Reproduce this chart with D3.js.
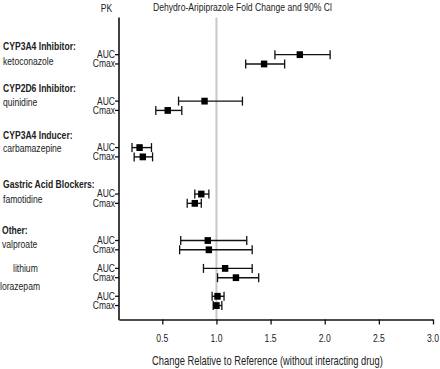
<!DOCTYPE html>
<html>
<head>
<meta charset="utf-8">
<script src="https://cdn.jsdelivr.net/npm/d3@7/dist/d3.min.js"></script>
<style>
  html, body { margin: 0; padding: 0; background: #fff; }
  svg { display: block; }
  text { font-family: "Liberation Sans", Arial, sans-serif; fill: #222; }
</style>
</head>
<body>
<svg id="chart" width="440" height="369"></svg>
<script>
// ---- data ----
const groupHeaders = ["CYP3A4 Inhibitor:", "CYP2D6 Inhibitor:", "CYP3A4 Inducer:", "Gastric Acid Blockers:", "Other:", "", ""];
const drugs        = ["ketoconazole", "quinidine", "carbamazepine", "famotidine", "valproate", "lithium", "lorazepam"];
const pkParams     = ["AUC", "Cmax"];
const aucPoint = [1.77, 0.89, 0.29, 0.86, 0.92, 1.08, 1.01];
const aucLow   = [1.54, 0.65, 0.22, 0.80, 0.67, 0.88, 0.96];
const aucHigh  = [2.05, 1.24, 0.40, 0.93, 1.28, 1.33, 1.07];
const cmaxPoint = [1.44, 0.55, 0.32, 0.80, 0.93, 1.18, 1.00];
const cmaxLow   = [1.27, 0.44, 0.24, 0.73, 0.66, 1.01, 0.97];
const cmaxHigh  = [1.63, 0.68, 0.41, 0.86, 1.33, 1.39, 1.05];
const xTicks = [0.5, 1.0, 1.5, 2.0, 2.5, 3.0];
const referenceValue = 1.0;
const titleText = "Dehydro-Aripiprazole Fold Change and 90% CI";
const xAxisTitle = "Change Relative to Reference (without interacting drug)";
const yAxisTitle = "PK";

// ---- layout (not data) ----
const labelDy = [[-5, 10], [-9, 5], [-9, 4.5], [-6, 8.5], [-7, 7], [null, 3.5], [null, -6]];
const labelX  = [3, 3, 3, 3, 2, 13, 0];
const SQX = 0.78; // horizontal compression (condensed look)

// build rows: slot indices with gaps
const rows = [];
let slot = 0;
drugs.forEach((d, i) => {
  if (i > 0) slot += groupHeaders[i] ? 3 : 1;
  rows.push({g: i, pk: pkParams[0], slot: slot, v: aucPoint[i], lo: aucLow[i], hi: aucHigh[i]});
  slot += 1;
  rows.push({g: i, pk: pkParams[1], slot: slot, v: cmaxPoint[i], lo: cmaxLow[i], hi: cmaxHigh[i]});
  slot += 1;
});
const lastSlot = slot - 1;

const svg = d3.select("#chart");
const x = d3.scaleLinear().domain([0.1, 3.0]).range([119, 433]);
const y = d3.scaleLinear().domain([-4, lastSlot + 1.5]).range([17.5, 319.5]);

function addText(px, py, str, size, opts = {}) {
  const t = svg.append("text")
    .attr("transform", `translate(${px},${py}) scale(${opts.sx || SQX},1)`)
    .attr("text-anchor", opts.anchor || "start")
    .style("font-size", size + "px")
    .attr("fill", opts.fill || "#222")
    .text(str);
  if (opts.bold) t.style("font-weight", "bold");
  return t;
}

// reference line
svg.append("line")
  .attr("x1", x(referenceValue)).attr("x2", x(referenceValue))
  .attr("y1", y(-4)).attr("y2", y(lastSlot + 1.5))
  .attr("stroke", "#c8c8c8").attr("stroke-width", 2);

// x axis
const xAxis = d3.axisBottom(x).tickValues(xTicks).tickFormat(d3.format(".1f")).tickSize(5).tickSizeOuter(0);
const gx = svg.append("g").attr("transform", `translate(0,${y(lastSlot + 1.5)})`).call(xAxis);
gx.select(".domain").attr("stroke", "#111").attr("stroke-width", 1.6);
gx.selectAll(".tick line").attr("stroke", "#111").attr("stroke-width", 1.3);
gx.selectAll(".tick text").remove();
xTicks.forEach(t => addText(x(t), y(lastSlot + 1.5) + 22, d3.format(".1f")(t), 11, {anchor: "middle", fill: "#333"}));

// y axis
svg.append("line")
  .attr("x1", x(0.1)).attr("x2", x(0.1))
  .attr("y1", y(-4)).attr("y2", y(lastSlot + 1.5) + 0.8)
  .attr("stroke", "#111").attr("stroke-width", 1.6);
svg.selectAll(".ytick").data(rows).enter().append("line")
  .attr("x1", x(0.1) - 4).attr("x2", x(0.1))
  .attr("y1", d => y(d.slot)).attr("y2", d => y(d.slot))
  .attr("stroke", "#111").attr("stroke-width", 1.3);
rows.forEach(d => addText(x(0.1) - 4, y(d.slot) + 3.4, d.pk, 10, {anchor: "end", sx: 0.85}));

// group / drug labels
drugs.forEach((d, i) => {
  const aucY = y(rows[i * 2].slot);
  if (groupHeaders[i]) addText(labelX[i], aucY + labelDy[i][0], groupHeaders[i], 11, {bold: true});
  addText(labelX[i], aucY + labelDy[i][1], d, 11);
});

// error bars
const bars = svg.selectAll(".bar").data(rows).enter().append("g");
bars.append("line")
  .attr("x1", d => x(d.lo)).attr("x2", d => x(d.hi))
  .attr("y1", d => y(d.slot)).attr("y2", d => y(d.slot))
  .attr("stroke", "#111").attr("stroke-width", 1.4);
bars.append("line")
  .attr("x1", d => x(d.lo)).attr("x2", d => x(d.lo))
  .attr("y1", d => y(d.slot) - 4.5).attr("y2", d => y(d.slot) + 4.5)
  .attr("stroke", "#111").attr("stroke-width", 1.3);
bars.append("line")
  .attr("x1", d => x(d.hi)).attr("x2", d => x(d.hi))
  .attr("y1", d => y(d.slot) - 4.5).attr("y2", d => y(d.slot) + 4.5)
  .attr("stroke", "#111").attr("stroke-width", 1.3);
bars.append("rect")
  .attr("x", d => x(d.v) - 3.2).attr("y", d => y(d.slot) - 3.4)
  .attr("width", 6.4).attr("height", 6.8)
  .attr("fill", "#000");

// titles
addText(106.5, 12, yAxisTitle, 11, {anchor: "middle", fill: "#444"});
addText(153, 10.5, titleText, 11, {fill: "#444"});
addText(267.5, 365, xAxisTitle, 12, {anchor: "middle", fill: "#333"});
</script>
</body>
</html>
